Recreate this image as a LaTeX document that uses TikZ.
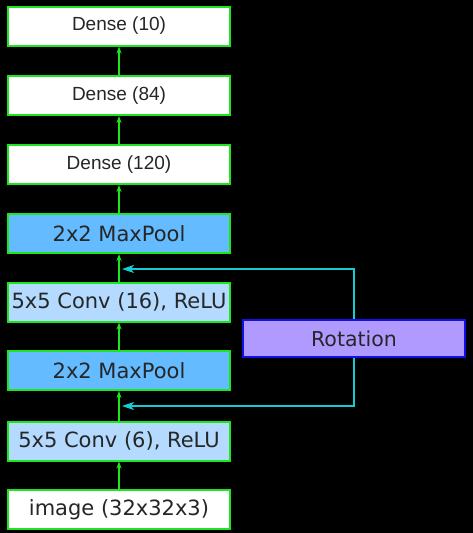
\documentclass[tikz,border=0pt]{standalone}
\usepackage{fontspec}
\setmainfont{DejaVu Sans}
\newfontfamily\densefont{Liberation Sans}
\usetikzlibrary{arrows.meta}
\definecolor{gr}{HTML}{1EE61E}
\definecolor{cy}{HTML}{14CCD2}
\definecolor{convc}{HTML}{B4DAFF}
\definecolor{poolc}{HTML}{64BBFF}
\definecolor{rotc}{HTML}{B09AFF}
\definecolor{rotb}{HTML}{1010E8}
\begin{document}
\begin{tikzpicture}[x=1pt,y=-1pt,
  layer/.style={draw=gr,line width=2pt,minimum width=222pt,minimum height=39pt,inner sep=0pt,font=\fontsize{21}{23}\selectfont,text=black!85},
  dense/.style={layer,fill=white,font=\densefont\fontsize{19}{21}\selectfont},
  conv/.style={layer,fill=convc},
  pool/.style={layer,fill=poolc},
  img/.style={layer,fill=white},
  garrow/.style={draw=gr,line width=1.3pt,-{Stealth[length=7pt,width=5pt]}},
  carrow/.style={draw=cy,line width=1.5pt,-{Stealth[length=12pt,width=8pt,inset=3pt]}}]
\fill[black] (0,0) rectangle (473,533);
\useasboundingbox (0,0) rectangle (473,533);
\node[dense] (d10) at (119,26) {Dense (10)};
\node[dense] (d84) at (119,95.5) {Dense (84)};
\node[dense] (d120) at (119,164.5) {Dense (120)};
\node[pool] (p2) at (119,233.5) {2x2 MaxPool};
\node[conv] (c2) at (119,302) {5x5 Conv (16), ReLU};
\node[pool] (p1) at (119,370.5) {2x2 MaxPool};
\node[conv] (c1) at (119,441) {5x5 Conv (6), ReLU};
\node[img] (im) at (119,509.5) {image (32x32x3)};
\node[draw=rotb,line width=2pt,fill=rotc,minimum width=222pt,minimum height=37pt,inner sep=0pt,font=\fontsize{20.5}{22}\selectfont,text=black!85] (rot) at (354,338.5) {Rotation};
\draw[garrow] (im) -- (c1);
\draw[garrow] (c1) -- (p1);
\draw[garrow] (p1) -- (c2);
\draw[garrow] (c2) -- (p2);
\draw[garrow] (p2) -- (d120);
\draw[garrow] (d120) -- (d84);
\draw[garrow] (d84) -- (d10);
\coordinate (t1) at (122,269);
\coordinate (t2) at (122,406);
\draw[carrow] (rot.north) |- (t1);
\draw[carrow] (rot.south) |- (t2);
\end{tikzpicture}
\end{document}
